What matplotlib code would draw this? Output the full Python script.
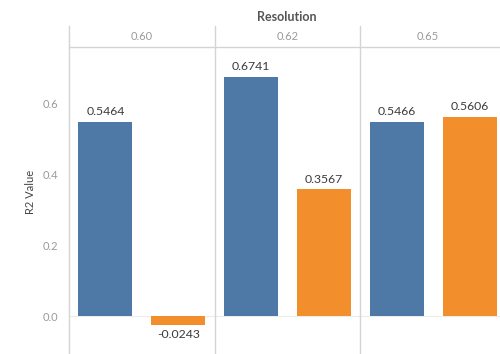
import numpy as np
import matplotlib
matplotlib.use("Agg")
import matplotlib.pyplot as plt
import matplotlib.transforms as mtransforms

plt.rcParams["font.family"] = ["Lato", "DejaVu Sans"]

resolutions = ["0.60", "0.62", "0.65"]
r2_blue = [0.5464, 0.6741, 0.5466]
r2_orange = [-0.0243, 0.3567, 0.5606]
y_ticks = [0.0, 0.2, 0.4, 0.6]

BLUE = "#4e79a7"
ORANGE = "#f28e2b"
LINE = "#d4d4d4"

fig = plt.figure(figsize=(5.0, 3.54), dpi=100)
W, H = 500.0, 354.0

# pane runs a little past the right edge, like a scrolled view
left, right, top, bottom = 69, 506, 47, 354
ax = fig.add_axes([left / W, 1 - bottom / H, (right - left) / W, (bottom - top) / H])

ax.set_xlim(0, 6)
ax.set_ylim(-0.107, 0.758)

bar_w = 0.74
for i, (b, o) in enumerate(zip(r2_blue, r2_orange)):
    xb = 2 * i + 0.5
    xo = 2 * i + 1.5
    ax.bar(xb, b, width=bar_w, color=BLUE, zorder=3)
    ax.bar(xo, o, width=bar_w, color=ORANGE, zorder=3)
    for x, v in ((xb, b), (xo, o)):
        off = 0.013 if v >= 0 else -0.013
        ax.text(x, v + off, f"{v:.4f}", ha="center",
                va="bottom" if v >= 0 else "top",
                fontsize=8.8, color="#3c3c3c", zorder=4)

ax.axhline(0, color="#ececec", linewidth=0.8, zorder=1)

# facet dividers, reaching up through the header row
ext = 1 + 21 / (bottom - top)
for x in (0, 2, 4):
    ax.axvline(x, ymin=0, ymax=ext, color=LINE, linewidth=1.0, clip_on=False)

trans = mtransforms.blended_transform_factory(ax.transData, ax.transAxes)
for i, r in enumerate(resolutions):
    cx = 2 * i + 1 if i < 2 else 2 * i + 0.93
    ax.text(cx, 1 + 10 / (bottom - top), r, transform=trans, ha="center",
            va="center", fontsize=8, color="#9a9a9a")

fig.text(287 / W, 1 - 17 / H, "Resolution", ha="center", va="center",
         fontsize=9, color="#555555", fontweight="bold")

for s in ("left", "right", "bottom"):
    ax.spines[s].set_visible(False)
ax.spines["top"].set_color(LINE)
ax.spines["top"].set_linewidth(1.0)

ax.set_xticks([])
ax.set_yticks(y_ticks)
ax.set_yticklabels([f"{t:.1f}" for t in y_ticks], fontsize=8, color="#9a9a9a")
ax.tick_params(axis="y", length=0, pad=8)

fig.text(31 / W, 1 - 192 / H, "R2 Value", rotation=90, ha="center",
         va="center", fontsize=8, color="#444444")

fig.savefig("out.png", dpi=100)
